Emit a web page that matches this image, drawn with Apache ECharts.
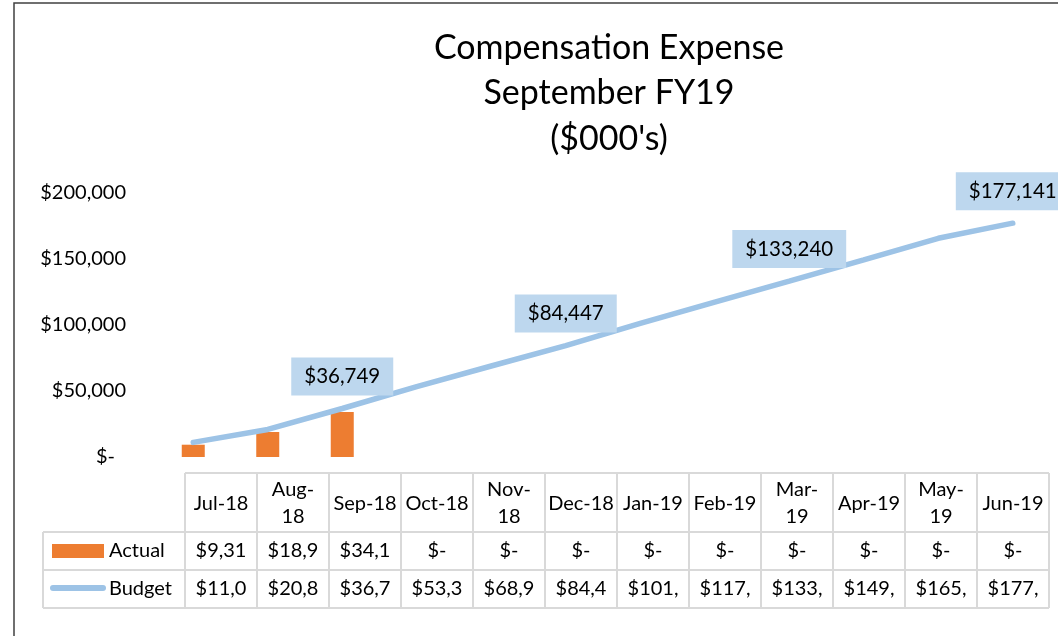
<!DOCTYPE html>
<html>
<head>
<meta charset="utf-8">
<script src="https://cdn.jsdelivr.net/npm/echarts@6/dist/echarts.min.js"></script>
<style>
  html, body { margin: 0; padding: 0; background: #fff; }
  #chart { width: 1058px; height: 636px; }
</style>
</head>
<body>
<div id="chart"></div>
<script>
// data
var months = ['Jul-18', 'Aug-18', 'Sep-18', 'Oct-18', 'Nov-18', 'Dec-18', 'Jan-19', 'Feb-19', 'Mar-19', 'Apr-19', 'May-19', 'Jun-19'];
var headerLabels = ['Jul-18', 'Aug-\n18', 'Sep-18', 'Oct-18', 'Nov-\n18', 'Dec-18', 'Jan-19', 'Feb-19', 'Mar-\n19', 'Apr-19', 'May-\n19', 'Jun-19'];
var actual = [9315, 18950, 34150, 0, 0, 0, 0, 0, 0, 0, 0, 0];
var budget = [11050, 20850, 36749, 53350, 68950, 84447, 101200, 117300, 133240, 149400, 165700, 177141];
var labelled = [2, 5, 8, 11];
var yTicks = [0, 50000, 100000, 150000, 200000];

var FONT = 'Lato';
var ORANGE = '#ED7D31';
var BLUE = '#9DC3E6';
var GRID_LINE = '#D9D9D9';

function money(v) {
  if (v === 0) return '$-';
  return '$' + v.toLocaleString('en-US');
}

// the cells clip the numbers to what fits
function cellText(v) {
  return money(v).slice(0, 5);
}

// data table under the plot
var tLeft = 185, colW = 72, legLeft = 43;
var rowY = [473, 532, 570, 608];
var tRight = tLeft + colW * months.length;
var table = [];

function hline(y, x1, x2) {
  table.push({ type: 'line', silent: true, shape: { x1: x1, y1: y, x2: x2, y2: y }, style: { stroke: GRID_LINE, lineWidth: 2 } });
}
function vline(x, y1, y2) {
  table.push({ type: 'line', silent: true, shape: { x1: x, y1: y1, x2: x, y2: y2 }, style: { stroke: GRID_LINE, lineWidth: 2 } });
}
function txt(x, y, s, align) {
  table.push({
    type: 'text', silent: true,
    style: { x: x, y: y, text: s, align: align || 'center', verticalAlign: 'middle', fontFamily: FONT, fontSize: 20, lineHeight: 27, fill: '#000' }
  });
}

hline(rowY[0], tLeft, tRight);
hline(rowY[1], legLeft, tRight);
hline(rowY[2], legLeft, tRight);
hline(rowY[3], legLeft, tRight);
vline(legLeft, rowY[1], rowY[3]);
for (var i = 0; i <= months.length; i++) {
  vline(tLeft + i * colW, rowY[0], rowY[3]);
}
for (var i = 0; i < months.length; i++) {
  var cx = tLeft + i * colW + colW / 2;
  txt(cx, (rowY[0] + rowY[1]) / 2 + 1, headerLabels[i]);
  txt(cx, (rowY[1] + rowY[2]) / 2, cellText(actual[i]));
  txt(cx, (rowY[2] + rowY[3]) / 2, cellText(budget[i]));
}
// legend keys inside the table
table.push({ type: 'rect', silent: true, shape: { x: 52, y: 544, width: 52, height: 14 }, style: { fill: ORANGE } });
table.push({ type: 'line', silent: true, shape: { x1: 53, y1: 588, x2: 103, y2: 588 }, style: { stroke: BLUE, lineWidth: 6, lineCap: 'round' } });
txt(109, (rowY[1] + rowY[2]) / 2, 'Actual', 'left');
txt(109, (rowY[2] + rowY[3]) / 2, 'Budget', 'left');

// outer chart frame
table.push({ type: 'rect', silent: true, z: -10, shape: { x: 14, y: 3, width: 1100, height: 700 }, style: { fill: 'none', stroke: '#404040', lineWidth: 1.5 } });

var budgetData = budget.map(function (v, i) {
  return { value: v, label: { show: labelled.indexOf(i) >= 0 } };
});

var myChart = echarts.init(document.getElementById('chart'));
myChart.setOption({
  animation: false,
  title: {
    text: 'Compensation Expense\nSeptember FY19\n($000\'s)',
    left: 609,
    top: 25,
    textAlign: 'center',
    padding: 0,
    textStyle: { fontFamily: FONT, fontSize: 34, fontWeight: 'normal', lineHeight: 45.5, color: '#000' }
  },
  grid: { left: 156, right: 8, top: 193, bottom: 179 },
  xAxis: {
    type: 'category',
    data: months,
    axisLine: { show: false },
    axisTick: { show: false },
    axisLabel: { show: false }
  },
  yAxis: {
    type: 'value',
    min: yTicks[0],
    max: yTicks[yTicks.length - 1],
    interval: yTicks[1] - yTicks[0],
    axisLine: { show: false },
    axisTick: { show: false },
    splitLine: { show: false },
    axisLabel: {
      margin: 30,
      fontFamily: FONT,
      fontSize: 20,
      color: '#000',
      formatter: function (v) {
        return v === 0 ? '{z|$-}' : money(v);
      },
      rich: {
        z: { fontFamily: FONT, fontSize: 20, color: '#000', padding: [0, 11, 0, 0] }
      }
    }
  },
  series: [
    {
      name: 'Actual',
      type: 'bar',
      data: actual,
      barWidth: 23,
      itemStyle: { color: ORANGE },
      emphasis: { disabled: true }
    },
    {
      name: 'Budget',
      type: 'line',
      data: budgetData,
      symbol: 'circle',
      symbolSize: 2,
      itemStyle: { color: BLUE },
      lineStyle: { color: BLUE, width: 5.5, cap: 'round' },
      emphasis: { disabled: true },
      label: {
        position: 'top',
        distance: 12,
        backgroundColor: '#BDD7EE',
        padding: [9, 13],
        fontFamily: FONT,
        fontSize: 20.5,
        lineHeight: 20,
        color: '#000',
        formatter: function (p) { return money(p.value); }
      }
    }
  ],
  graphic: table
});
</script>
</body>
</html>
